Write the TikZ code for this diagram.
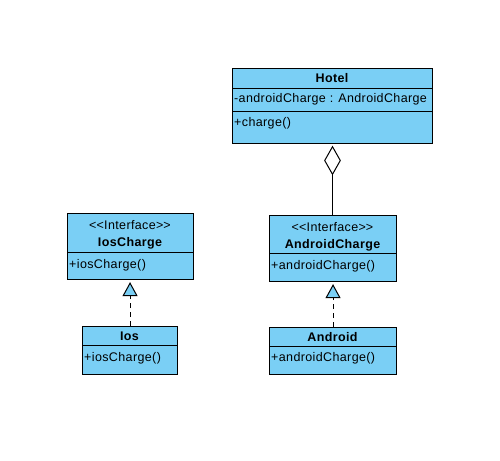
\documentclass[tikz,border=0pt]{standalone}
\usepackage{fontspec}
\setmainfont[LetterSpace=3,Ligatures=TeXOff]{Liberation Sans}
\usetikzlibrary{arrows.meta,shapes.geometric}
\definecolor{boxblue}{RGB}{122,207,245}
\tikzset{
  umlbox/.style={draw, fill=boxblue, line width=1.1pt, rectangle, inner sep=0pt, anchor=north west},
  sep/.style={line width=1pt},
  title/.style={font=\fontsize{12.5}{14}\selectfont\bfseries, inner sep=0pt, anchor=center},
  stereo/.style={font=\fontsize{12.5}{14}\selectfont, inner sep=0pt, anchor=center},
  member/.style={font=\fontsize{12.5}{14}\selectfont, inner sep=0pt, anchor=west},
  realize/.style={dash pattern=on 5pt off 4pt, line width=1pt, shorten >=2pt,
    -{Triangle[length=14pt,width=15pt,fill=boxblue,line width=1pt]}},
  aggline/.style={line width=1pt},
  aggdiamond/.style={diamond, draw, fill=white, line width=1pt, minimum width=16pt, minimum height=28pt, inner sep=0pt, anchor=north, aspect=0.57}
}
\newcommand{\guil}[1]{<\kern0pt<#1>\kern0pt>}
\begin{document}
\begin{tikzpicture}[x=1pt,y=-1pt]
\useasboundingbox[fill=white] (0,0) rectangle (500,460);
% Hotel
\node[umlbox, minimum width=200pt, minimum height=75pt] (hotel) at (232,68) {};
\draw[sep] (232,88) -- (432,88);
\draw[sep] (232,111) -- (432,111);
\node[title] (hoteltitle) at (332,78.5) {Hotel};
\node[member] (hotelattr) at (234,99.5) {-androidCharge : AndroidCharge};
\node[member] (hotelop) at (234,123) {+charge()};
% IosCharge
\node[umlbox, minimum width=126pt, minimum height=66pt] (iosc) at (67,213) {};
\draw[sep] (67,252) -- (193,252);
\node[stereo] (ioscst) at (130,225) {\guil{Interface}};
\node[title] (iosctitle) at (130,243) {IosCharge};
\node[member] (ioscop) at (69,265.5) {+iosCharge()};
% Ios
\node[umlbox, minimum width=95pt, minimum height=48pt] (ios) at (82,326) {};
\draw[sep] (82,345) -- (177,345);
\node[title] (iostitle) at (129.5,336) {Ios};
\node[member] (iosop) at (84,358) {+iosCharge()};
% AndroidCharge
\node[umlbox, minimum width=127pt, minimum height=66pt] (andc) at (269,215) {};
\draw[sep] (269,253) -- (396,253);
\node[stereo] (andcst) at (332.5,227) {\guil{Interface}};
\node[title] (andctitle) at (332.5,245) {AndroidCharge};
\node[member] (andcop) at (271,266) {+androidCharge()};
% Android
\node[umlbox, minimum width=127pt, minimum height=47pt] (and) at (269,327) {};
\draw[sep] (269,346) -- (396,346);
\node[title] (andtitle) at (332.5,337) {Android};
\node[member] (andop) at (271,358) {+androidCharge()};
% aggregation
\node[aggdiamond] (agg) at (332.5,146) {};
\draw[aggline] (agg.south) -- (agg.south |- andc.north);
% realizations
\draw[realize] (ios.north) -- (ios.north |- iosc.south);
\draw[realize] (and.north) -- (and.north |- andc.south);
\end{tikzpicture}
\end{document}
